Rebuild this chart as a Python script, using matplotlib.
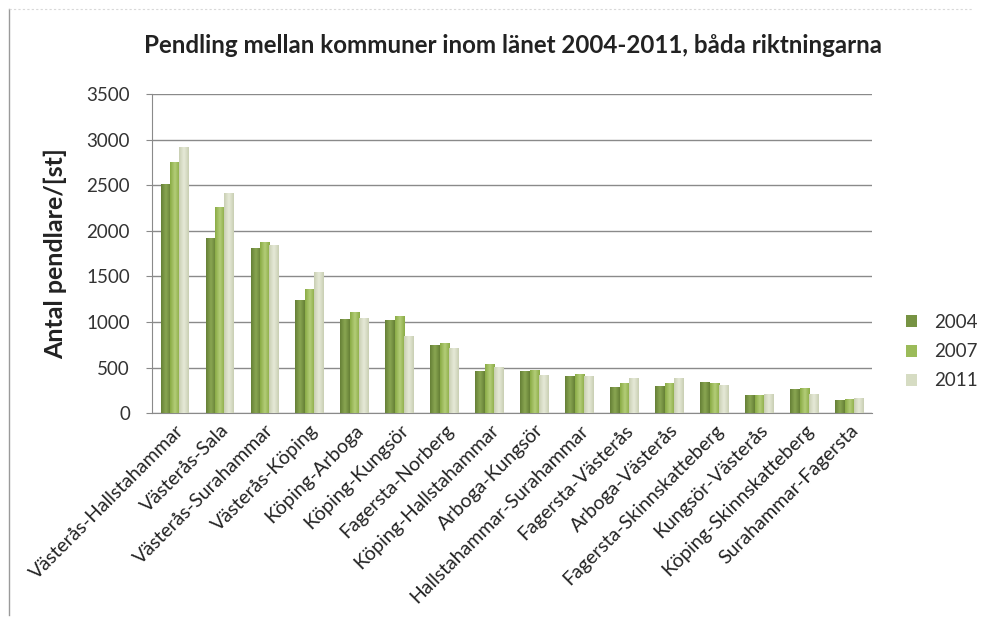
import matplotlib
matplotlib.use("Agg")
import matplotlib.pyplot as plt
import numpy as np
from matplotlib.colors import LinearSegmentedColormap
from matplotlib.patches import Patch

categories = ["Västerås-Hallstahammar", "Västerås-Sala", "Västerås-Surahammar",
              "Västerås-Köping", "Köping-Arboga", "Köping-Kungsör", "Fagersta-Norberg",
              "Köping-Hallstahammar", "Arboga-Kungsör", "Hallstahammar-Surahammar",
              "Fagersta-Västerås", "Arboga-Västerås", "Fagersta-Skinnskatteberg",
              "Kungsör-Västerås", "Köping-Skinnskatteberg", "Surahammar-Fagersta"]
years = ["2004", "2007", "2011"]
v2004 = [2510, 1920, 1815, 1245, 1035, 1025, 745, 460, 465, 405, 290, 300, 340, 195, 265, 150]
v2007 = [2760, 2260, 1875, 1360, 1110, 1070, 770, 540, 470, 430, 335, 328, 335, 205, 278, 160]
v2011 = [2920, 2415, 1845, 1550, 1040, 850, 718, 505, 415, 405, 385, 382, 305, 215, 215, 162]
yticks = [0, 500, 1000, 1500, 2000, 2500, 3000, 3500]

series = [v2004, v2007, v2011]
base_colors = ["#779343", "#9bbb59", "#d6dcc3"]
grad = [("#657f36", "#8aa652"), ("#8aab45", "#b3cd78"), ("#c9cfb3", "#e6ead8")]

plt.rcParams['font.family'] = ['Lato', 'DejaVu Sans']

fig = plt.figure(figsize=(9.82, 6.28), dpi=100)
ax = fig.add_axes([0.155, 0.342, 0.733, 0.508])

x = np.arange(len(categories))
w = 0.21
for i, (vals, col, (c0, c1)) in enumerate(zip(series, base_colors, grad)):
    bars = ax.bar(x + (i - 1) * w, vals, width=w, color=col, zorder=2, linewidth=0)
    cmap = LinearSegmentedColormap.from_list("g%d" % i, [c0, c1, c0])
    gimg = np.linspace(0, 1, 64).reshape(1, -1)
    for b in bars:
        bx, by = b.get_x(), b.get_y()
        im = ax.imshow(gimg, cmap=cmap, aspect='auto', zorder=3,
                       extent=[bx, bx + b.get_width(), by, by + b.get_height()],
                       interpolation='bilinear')
        im.set_clip_path(b)

ax.set_xlim(-0.5, len(categories) - 0.5)
ax.set_ylim(0, 3500)
ax.set_yticks(yticks)
ax.set_yticklabels([str(t) for t in yticks], fontsize=13.5, color="#333333")
ax.yaxis.grid(True, color="#8a8a8a", linewidth=1.0, zorder=0)
ax.set_axisbelow(True)
ax.set_xticks(x)
ax.set_xticklabels(categories, rotation=45, ha='right', rotation_mode='anchor',
                   fontsize=14, color="#222222")
ax.tick_params(axis='x', length=0, pad=6)
ax.tick_params(axis='y', length=4, color="#8a8a8a", pad=12)
for s in ["top", "right"]:
    ax.spines[s].set_visible(False)
for s in ["left", "bottom"]:
    ax.spines[s].set_color("#8a8a8a")

ax.set_ylabel("Antal pendlare/[st]", fontsize=18, fontweight='bold', color="#222222", labelpad=14)
fig.text(0.522, 0.928, "Pendling mellan kommuner inom länet 2004-2011, båda riktningarna",
         ha='center', va='center', fontsize=17.4, fontweight='bold', color="#222222")

handles = [Patch(facecolor=c, edgecolor='none') for c in base_colors]
fig.legend(handles, years, loc='center left', bbox_to_anchor=(0.905, 0.44),
           frameon=False, fontsize=13.5, handlelength=0.6, handleheight=0.6,
           labelspacing=0.65, handletextpad=0.9, labelcolor="#333333")

fig.add_artist(plt.Line2D([0.009, 0.009], [0.02, 0.985], color="#9a9a9a", linewidth=1.0))
fig.add_artist(plt.Line2D([0.009, 0.99], [0.985, 0.985], color="#d8d8d8", linewidth=0.8,
                          linestyle=(0, (2, 2))))

fig.savefig("out.png", dpi=100)
